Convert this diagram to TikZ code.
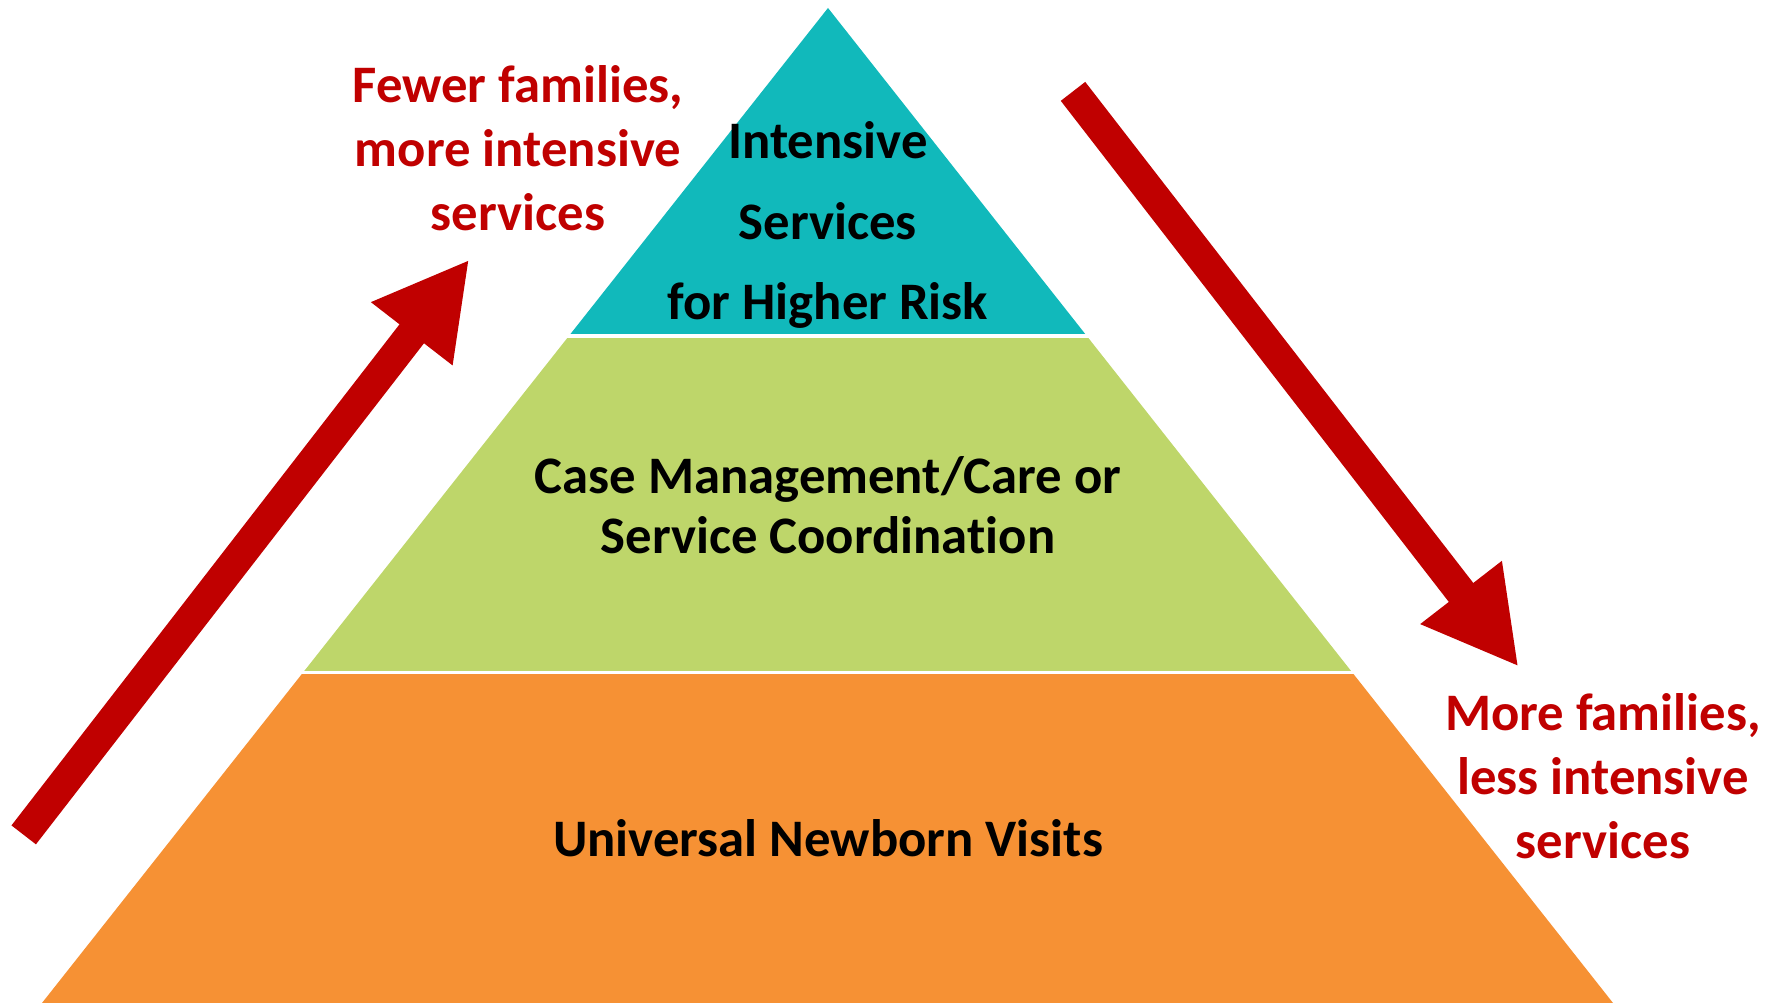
\documentclass[tikz,border=0pt]{standalone}
\usepackage{fontspec}
\setmainfont[Ligatures=CommonOff]{Carlito}
\usepackage{xcolor}
\usepackage{tikz}
\usetikzlibrary{arrows.meta,calc}

\definecolor{tealtop}{RGB}{17,185,187}
\definecolor{greenmid}{RGB}{190,214,106}
\definecolor{orangelow}{RGB}{246,145,52}
\definecolor{darkred}{RGB}{192,0,0}

\begin{document}
\begin{tikzpicture}[
    redtxt/.style={text=darkred, align=center, font=\fontsize{15}{18.2}\selectfont\bfseries},
    bandtxt/.style={text=black, align=center, font=\fontsize{15}{17}\selectfont\bfseries},
    bigarrow/.style={draw=darkred, line width=8.8pt, -{Triangle[length=0.94cm,width=0.96cm]}}
  ]
    \useasboundingbox (0,0) rectangle (17.69,10.03);

    % Corners of the pyramid
    \coordinate (apex) at (8.28,9.95);
    \coordinate (bl) at (0.42,0);
    \coordinate (br) at (16.13,0);
    \coordinate (topl) at ($(apex)!0.3298!(bl)$);
    \coordinate (topr) at ($(apex)!0.3298!(br)$);
    \coordinate (midl) at ($(apex)!0.6677!(bl)$);
    \coordinate (midr) at ($(apex)!0.6677!(br)$);

    % Draw the three bands
    \fill[tealtop] (apex) -- (topl) -- (topr) -- cycle;
    \fill[greenmid] (topl) -- (midl) -- (midr) -- (topr) -- cycle;
    \fill[orangelow] (midl) -- (bl) -- (br) -- (midr) -- cycle;
    \draw[white, line width=1pt] ($(topl)+(-0.05,0)$) -- ($(topr)+(0.05,0)$);
    \draw[white, line width=1pt] ($(midl)+(-0.05,0)$) -- ($(midr)+(0.05,0)$);

    % Band labels
    \node[bandtxt, font=\fontsize{15}{23}\selectfont\bfseries] (intensive) at (8.28,7.78) {Intensive\\Services\\for Higher Risk};
    \node[bandtxt] (casemgmt) at (8.28,4.98) {Case Management/Care or\\Service Coordination};
    \node[bandtxt] (universal) at (8.28,1.65) {Universal Newborn Visits};

    % Arrows
    \coordinate (uptail) at (0.237,1.681);
    \coordinate (uphead) at (4.693,7.435);
    \coordinate (downtail) at (10.73,9.116);
    \coordinate (downhead) at (15.186,3.362);
    \draw[bigarrow] (uptail) -- (uphead);
    \draw[bigarrow] (downtail) -- (downhead);

    % Side labels
    \node[redtxt] (fewer) at (5.18,8.55) {Fewer families,\\more intensive\\services};
    \node[redtxt] (more) at (16.03,2.27) {More families,\\less intensive\\services};
\end{tikzpicture}
\end{document}
